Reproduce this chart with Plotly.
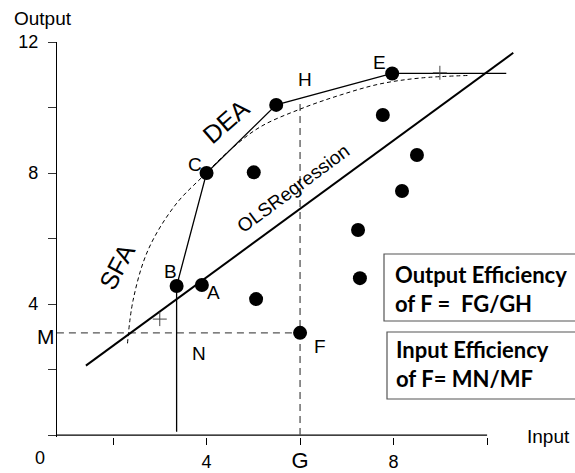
import plotly.graph_objects as go

# ---------------- data ----------------
# efficient (DEA frontier) firms B, C, D, E
frontier_names = ["B", "C", "D", "E"]
frontier_x = [3.36, 4.0, 5.49, 7.97]
frontier_y = [4.55, 8.0, 10.08, 11.04]

# other (inefficient) firms: A, F and unlabeled ones
other_x = [3.90, 5.01, 5.06, 6.0, 7.77, 8.50, 8.18, 7.24, 7.28]
other_y = [4.58, 8.02, 4.15, 3.12, 9.77, 8.55, 7.45, 6.26, 4.79]

# DEA envelope (vertical drop from B, then B-C-D-E, then flat)
dea_x = [3.36, 3.36, 4.0, 5.49, 7.97, 10.41]
dea_y = [0.10, 4.55, 8.0, 10.08, 11.04, 11.04]

# OLS regression line end points
ols_x = [1.42, 10.56]
ols_y = [2.12, 11.67]

# SFA frontier (dashed curve)
sfa_x = [2.31, 2.43, 2.75, 3.33, 3.93, 4.50, 5.14, 6.00, 6.86, 7.71, 8.57, 9.64]
sfa_y = [2.80, 4.12, 5.65, 7.02, 7.91, 8.70, 9.40, 9.95, 10.38, 10.72, 10.90, 10.98]

# small "+" marks
plus_x = [3.0, 8.99]
plus_y = [3.54, 11.06]

# reference lines for F
m_line_x = [0.80, 6.0]
m_line_y = [3.12, 3.12]
g_line_x = [6.0, 6.0]
g_line_y = [0.0, 10.28]

# axes
x_origin = 0.80
x_end = 10.0
x_tickvals = [0.80, 2, 4, 6, 8, 10]
x_ticktext = ["", "", "4", "<span style='font-size:22px'>G</span>", "8", ""]
y_tickvals = [0, 2, 4, 6, 8, 10, 12]
y_ticktext = ["", "", "4", "", "8", "", "12"]

# ---------------- figure ----------------
W, H = 575, 473
ML, MR, MT, MB = 57, 0, 42, 36
AF = "Liberation Sans, Arial, sans-serif"
BF = "Lato, Carlito, Calibri, sans-serif"

fig = go.Figure()

# x axis line
fig.add_trace(go.Scatter(x=[x_origin, x_end], y=[0, 0], mode="lines",
                         line=dict(color="black", width=1.3), hoverinfo="skip"))

# dashed helper lines
fig.add_trace(go.Scatter(x=m_line_x, y=m_line_y, mode="lines",
                         line=dict(color="#555555", width=1.3, dash="7px,5px"), hoverinfo="skip"))
fig.add_trace(go.Scatter(x=g_line_x, y=g_line_y, mode="lines",
                         line=dict(color="#555555", width=1.3, dash="7px,5px"), hoverinfo="skip"))

# SFA curve
fig.add_trace(go.Scatter(x=sfa_x, y=sfa_y, mode="lines",
                         line=dict(color="black", width=1, dash="4px,3px", shape="spline", smoothing=1.0),
                         hoverinfo="skip"))

# OLS regression
fig.add_trace(go.Scatter(x=ols_x, y=ols_y, mode="lines",
                         line=dict(color="black", width=2), hoverinfo="skip"))

# DEA envelope
fig.add_trace(go.Scatter(x=dea_x, y=dea_y, mode="lines",
                         line=dict(color="black", width=1.3), hoverinfo="skip"))

# plus marks
fig.add_trace(go.Scatter(x=plus_x, y=plus_y, mode="markers",
                         marker=dict(symbol="cross-thin", size=10, line=dict(color="#444444", width=1)),
                         hoverinfo="skip"))

# points
fig.add_trace(go.Scatter(x=frontier_x + other_x, y=frontier_y + other_y, mode="markers",
                         marker=dict(color="black", size=14), cliponaxis=False, hoverinfo="skip"))

fig.update_layout(
    width=W, height=H, showlegend=False,
    margin=dict(l=ML, r=MR, t=MT, b=MB),
    paper_bgcolor="white", plot_bgcolor="white",
    font=dict(family=AF, size=18, color="black"),
    xaxis=dict(range=[0.802, 11.88], showgrid=False, zeroline=False, showline=False,
               tickmode="array", tickvals=x_tickvals, ticktext=x_ticktext,
               ticks="outside", ticklen=7, tickwidth=1, tickcolor="black",
               tickfont=dict(family=AF, size=18), ticklabelstandoff=1),
    yaxis=dict(range=[-0.06, 12], showgrid=False, zeroline=False, showline=True,
               linecolor="black", linewidth=1.3,
               tickmode="array", tickvals=y_tickvals, ticktext=y_ticktext,
               ticks="outside", ticklen=8, tickwidth=1, tickcolor="#333333",
               tickfont=dict(family=AF, size=18), ticklabelstandoff=6),
)

def px2paper(px, py):
    return (px - ML) / (W - ML - MR), (H - MB - py) / (H - MT - MB)

anns = []
def lab(text, x, y, size=19, ref="x", angle=0, **kw):
    d = dict(text=text, x=x, y=y, xref=ref, yref=("y" if ref == "x" else "paper"),
             showarrow=False, font=dict(family=AF, size=size, color="black"),
             textangle=angle, xanchor="center", yanchor="middle")
    d.update(kw)
    anns.append(d)

# point labels (data coords)
lab("A", 4.14, 4.34)
lab("B", 3.22, 4.98)
lab("C", 3.75, 8.27)
lab("E", 7.69, 11.36)
lab("H", 6.11, 10.84)
lab("N", 3.84, 2.50)
lab("F", 6.43, 2.69)
lab("DEA", 4.42, 9.59, size=25, angle=-41)
lab("SFA", 2.09, 5.16, size=25, angle=-62)
lab("OLSRegression", 5.85, 7.54, size=19, angle=-36.6)

# axis labels in paper coords
px, py = px2paper(43, 19); lab("Output", px, py, size=19, ref="paper")
px, py = px2paper(548, 436); lab("Input", px, py, size=19, ref="paper")
px, py = px2paper(46, 336); lab("M", px, py, size=21, ref="paper")
px, py = px2paper(40, 458); lab("0", px, py, size=18, ref="paper")

# efficiency boxes
bx1 = px2paper(384, 254) + px2paper(590, 321)
bx2 = px2paper(387, 332) + px2paper(590, 399)
shapes = []
for b in (bx1, bx2):
    shapes.append(dict(type="rect", xref="paper", yref="paper",
                       x0=b[0], y0=b[1], x1=b[2], y1=b[3],
                       line=dict(color="#555555", width=1.2), fillcolor="rgba(0,0,0,0)"))
px, py = px2paper(393, 289)
anns.append(dict(text="<b>Output Efficiency<br>of F =\u00a0 FG/GH</b>", x=px, y=py,
                 xref="paper", yref="paper", showarrow=False, xanchor="left", yanchor="middle",
                 align="left", font=dict(family=BF, size=22, color="black")))
px, py = px2paper(394, 364)
anns.append(dict(text="<b>Input Efficiency<br>of F= MN/MF</b>", x=px, y=py,
                 xref="paper", yref="paper", showarrow=False, xanchor="left", yanchor="middle",
                 align="left", font=dict(family=BF, size=22, color="black")))

fig.update_layout(annotations=anns, shapes=shapes)

fig.write_html("out.html", config=dict(displayModeBar=False),
               post_script="document.body.style.margin='0';document.body.style.overflow='hidden';")
